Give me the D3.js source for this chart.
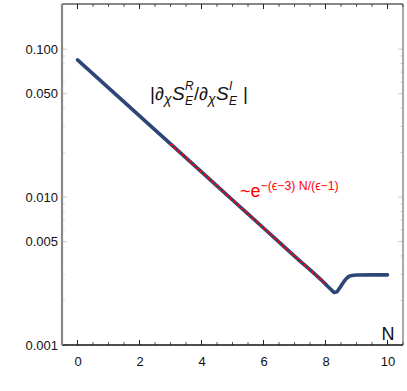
<!DOCTYPE html>
<html>
<head>
<meta charset="utf-8">
<script src="https://cdn.jsdelivr.net/npm/d3@7"></script>
<style>
  body { margin: 0; background: #fff; }
  svg { font-family: "Liberation Sans", Arial, sans-serif; }
</style>
</head>
<body>
<div id="chart"></div>
<script>
// curve values
const nValues = [0, 1, 2, 3, 4, 5, 6, 7, 8, 8.1, 8.2, 8.28, 8.36, 8.45, 8.55, 8.65, 8.75, 8.85, 9, 9.5, 10];
const ratioValues = [0.0847, 0.0548, 0.0354, 0.0229, 0.0148, 0.00956, 0.00618, 0.00399, 0.00258, 0.00246, 0.00235, 0.00227, 0.00229, 0.00242, 0.00260, 0.00278, 0.00290, 0.00295, 0.00297, 0.00298, 0.00298];

// red asymptotic fit
const fitN = [3, 8];
const fitValues = [0.0229, 0.00258];

const xMajorTicks = [0, 2, 4, 6, 8, 10];
const yMajorTicks = [0.001, 0.005, 0.01, 0.05, 0.1];
const yTickLabels = ["0.001", "0.005", "0.010", "0.050", "0.100"];

const totalW = 407, totalH = 391;
const margin = { top: 4, right: 4, bottom: 46, left: 62 };
const width = totalW - margin.left - margin.right;
const height = totalH - margin.top - margin.bottom;

const svg = d3.select("#chart")
    .append("svg")
    .attr("width", totalW)
    .attr("height", totalH);

const g = svg.append("g")
    .attr("transform", "translate(" + margin.left + "," + margin.top + ")");

const xScale = d3.scaleLinear().domain([-0.5, 10.5]).range([0, width]);
const yScale = d3.scaleLog().domain([0.001, 0.202]).range([height, 0]);

// minor ticks
const xMinor = d3.range(-0.5, 10.51, 0.5).filter(v => xMajorTicks.indexOf(v) < 0);
const yMinor = [];
[0.001, 0.01, 0.1].forEach(d => {
    for (let k = 1; k < 10; k++) {
        const v = d * k;
        if (v <= 0.2 && !yMajorTicks.some(t => Math.abs(t - v) < 1e-9)) yMinor.push(v);
    }
});

// bottom axis
const xAxis = g.append("g")
    .attr("transform", "translate(0," + height + ")")
    .call(d3.axisBottom(xScale).tickValues(xMajorTicks).tickSize(0).tickPadding(12).tickFormat(d3.format("d")));
xAxis.select(".domain").remove();
xAxis.selectAll("text").style("font-size", "13px").attr("fill", "#111");

xMajorTicks.forEach(v => {
    g.append("line").attr("x1", xScale(v)).attr("x2", xScale(v)).attr("y1", height).attr("y2", height - 5).attr("stroke", "#222");
    g.append("line").attr("x1", xScale(v)).attr("x2", xScale(v)).attr("y1", 0).attr("y2", 5).attr("stroke", "#222");
});
xMinor.forEach(v => {
    g.append("line").attr("x1", xScale(v)).attr("x2", xScale(v)).attr("y1", height).attr("y2", height - 3).attr("stroke", "#555");
    g.append("line").attr("x1", xScale(v)).attr("x2", xScale(v)).attr("y1", 0).attr("y2", 3).attr("stroke", "#555");
});

// left axis
const yAxis = g.append("g")
    .call(d3.axisLeft(yScale).tickValues(yMajorTicks).tickSize(0).tickPadding(4)
        .tickFormat((d, i) => yTickLabels[i]));
yAxis.select(".domain").remove();
yAxis.selectAll("text").style("font-size", "13px").attr("fill", "#111");

yMajorTicks.forEach(v => {
    g.append("line").attr("x1", 0).attr("x2", 5).attr("y1", yScale(v)).attr("y2", yScale(v)).attr("stroke", "#ccc");
    g.append("line").attr("x1", width).attr("x2", width - 5).attr("y1", yScale(v)).attr("y2", yScale(v)).attr("stroke", "#ccc");
});
yMinor.forEach(v => {
    g.append("line").attr("x1", 0).attr("x2", 3).attr("y1", yScale(v)).attr("y2", yScale(v)).attr("stroke", "#ddd");
    g.append("line").attr("x1", width).attr("x2", width - 3).attr("y1", yScale(v)).attr("y2", yScale(v)).attr("stroke", "#ddd");
});

// frame
g.append("line").attr("x1", 0).attr("x2", width).attr("y1", height).attr("y2", height).attr("stroke", "#111").attr("stroke-width", 1.5);
g.append("line").attr("x1", 0).attr("x2", width).attr("y1", 0).attr("y2", 0).attr("stroke", "#111").attr("stroke-width", 1);
g.append("line").attr("x1", 0).attr("x2", 0).attr("y1", 0).attr("y2", height).attr("stroke", "#888").attr("stroke-width", 2.2);
g.append("line").attr("x1", width).attr("x2", width).attr("y1", 0).attr("y2", height).attr("stroke", "#555").attr("stroke-width", 1);

// main curve
const line = d3.line()
    .x((d, i) => xScale(nValues[i]))
    .y(d => yScale(d))
    .curve(d3.curveMonotoneX);

g.append("path")
    .datum(ratioValues)
    .attr("fill", "none")
    .attr("stroke", "#2e4677")
    .attr("stroke-width", 3.6)
    .attr("stroke-linecap", "round")
    .attr("d", line);

// fit line
const fitLine = d3.line()
    .x((d, i) => xScale(fitN[i]))
    .y(d => yScale(d));

g.append("path")
    .datum(fitValues)
    .attr("fill", "none")
    .attr("stroke", "#ff0000")
    .attr("stroke-width", 2.2)
    .attr("stroke-dasharray", "2.5,2.5")
    .attr("d", fitLine);

// curve label: built from separate pieces so scripts stack
function piece(x, y, txt, size, italic, color) {
    return svg.append("text")
        .attr("x", x).attr("y", y)
        .style("font-size", size + "px")
        .style("font-style", italic ? "italic" : "normal")
        .attr("fill", color || "#111")
        .text(txt);
}
piece(150, 100, "|", 19, false);
piece(155, 100, "∂", 18, false);
piece(164, 104, "χ", 14, true);
piece(172, 100, "S", 19, true);
piece(185, 90, "R", 12, true);
piece(185, 105, "E", 12, true);
piece(194, 100, "/", 18, false);
piece(199, 100, "∂", 18, false);
piece(208, 104, "χ", 14, true);
piece(216, 100, "S", 19, true);
piece(229, 90, "I", 12, true);
piece(229, 105, "E", 12, true);
piece(243, 100, "|", 19, false);

// fit label
const fitLab = svg.append("text")
    .attr("x", 240)
    .attr("y", 197)
    .attr("fill", "#ff0000")
    .style("font-size", "18px");
fitLab.append("tspan").text("~e");
fitLab.append("tspan").text("−(ϵ−3) N/(ϵ−1)").style("font-size", "12.3px").attr("dy", -7);

// axis name
svg.append("text")
    .attr("x", 388)
    .attr("y", 340)
    .attr("text-anchor", "middle")
    .style("font-size", "18px")
    .attr("fill", "#111")
    .text("N");
</script>
</body>
</html>
